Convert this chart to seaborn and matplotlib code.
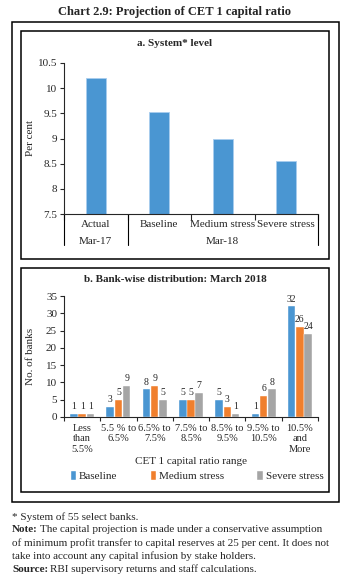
import numpy as np
import pandas as pd
import matplotlib
matplotlib.use('Agg')
import matplotlib.pyplot as plt
import seaborn as sns
from matplotlib.patches import Rectangle
from matplotlib.lines import Line2D

# panel a: system level
cats_a = ['Actual', 'Baseline', 'Medium stress', 'Severe stress']
vals_a = [10.2, 9.52, 9.0, 8.55]
groups_a = ['Mar-17', 'Mar-18']

# panel b: bank-wise distribution
ranges_b = ['Less\nthan\n5.5%', '5.5 % to\n6.5%', '6.5% to\n7.5%', '7.5% to\n8.5%',
            '8.5% to\n9.5%', '9.5% to\n10.5%', '10.5%\nand\nMore']
baseline = [1, 3, 8, 5, 5, 1, 32]
medium = [1, 5, 9, 5, 3, 6, 26]
severe = [1, 9, 5, 7, 1, 8, 24]
scen = ['Baseline', 'Medium stress', 'Severe stress']

sns.set_style('ticks')
plt.rcParams['font.family'] = ['Liberation Serif', 'DejaVu Serif']
plt.rcParams['font.size'] = 8

W, H = 350, 578
fig = plt.figure(figsize=(3.5, 5.78), dpi=100)

def fx(x):
    return x / W

def fy(y):
    return 1 - y / H

def box(x0, y0, x1, y1):
    fig.add_artist(Rectangle((fx(x0), fy(y1)), fx(x1 - x0), (y1 - y0) / H,
                             transform=fig.transFigure, fill=False, ec='black', lw=1.1))

box(12, 22, 339, 502)
box(21, 31, 329, 259)
box(21, 268, 329, 492)

fig.text(0.5, fy(12), 'Chart 2.9: Projection of CET 1 capital ratio', ha='center', va='center',
         weight='bold', fontsize=9)
fig.text(fx(175), fy(43), 'a. System* level', ha='center', va='center', weight='bold', fontsize=8)
fig.text(fx(175), fy(279), 'b. Bank-wise distribution: March 2018', ha='center', va='center',
         weight='bold', fontsize=8)

blue = '#4A96D2'
orange = '#F07F2D'
grey = '#A5A5A5'

# ---- panel a
ax1 = fig.add_axes([fx(64), fy(214), fx(254), 151 / H])
da = pd.DataFrame({'cat': cats_a, 'val': vals_a})
sns.barplot(data=da, x='cat', y='val', color=blue, width=0.31, ax=ax1,
            edgecolor='#a8cdee', linewidth=0.6, saturation=1)
ax1.set_ylim(7.5, 10.5)
ax1.set_xlim(-0.5, 3.5)
ax1.set_yticks(np.arange(7.5, 10.51, 0.5))
ax1.set_yticklabels([f'{v:g}' for v in np.arange(7.5, 10.51, 0.5)])
ax1.set_xticks(range(4))
ax1.set_xticklabels(cats_a)
ax1.tick_params(axis='x', length=0, pad=4)
ax1.set_xticks([-0.5, 0.5, 1.5, 2.5, 3.5], minor=True)
ax1.tick_params(axis='x', which='minor', length=4, width=0.8)
ax1.tick_params(axis='y', length=3, width=0.8, pad=2)
ax1.set_xlabel('')
ax1.set_ylabel('Per cent')
ax1.yaxis.set_label_coords(-29 / 254, 0.5)
sns.despine(ax=ax1)
trans = ax1.get_xaxis_transform()
for xs in [-0.5, 0.5, 3.5]:
    ax1.add_line(Line2D([xs, xs], [0, -31 / 151], transform=trans, color='black', lw=0.8,
                        clip_on=False))
ax1.text(0, -28 / 151, groups_a[0], transform=trans, ha='center', va='center')
ax1.text(2, -28 / 151, groups_a[1], transform=trans, ha='center', va='center')

# ---- panel b
ax2 = fig.add_axes([fx(64), fy(417), fx(254), 121 / H])
db = pd.DataFrame({'range': ranges_b * 3,
                   'scenario': np.repeat(scen, len(ranges_b)),
                   'n': baseline + medium + severe})
sns.barplot(data=db, x='range', y='n', hue='scenario', palette=[blue, orange, grey],
            width=0.68, gap=0.08, ax=ax2, saturation=1, edgecolor='white', linewidth=0.3)
for c in ax2.containers:
    ax2.bar_label(c, padding=2, fontsize=7)
ax2.set_ylim(0, 35)
ax2.set_xlim(-0.5, 6.5)
ax2.set_yticks(range(0, 36, 5))
ax2.tick_params(axis='x', length=0, pad=5, labelsize=7.5)
ax2.set_xticks(np.arange(-0.5, 6.6, 1), minor=True)
ax2.tick_params(axis='x', which='minor', length=3, width=0.8)
ax2.tick_params(axis='y', length=3, width=0.8, pad=2)
ax2.set_xlabel('CET 1 capital ratio range', labelpad=2)
ax2.set_ylabel('No. of banks')
ax2.yaxis.set_label_coords(-29 / 254, 0.5)
sns.despine(ax=ax2)
handles, labels = ax2.get_legend_handles_labels()
ax2.get_legend().remove()
fig.legend(handles, labels, loc='center', bbox_to_anchor=(fx(197), fy(476)), ncol=3,
           frameon=False, handlelength=0.5, handleheight=0.9, handletextpad=0.25,
           columnspacing=3.0, fontsize=8)

# ---- footnotes
r = fig.canvas.get_renderer()

def mixed(y, bold, rest):
    t = fig.text(fx(12), fy(y), bold, weight='bold', va='center', fontsize=8)
    bb = t.get_window_extent(r)
    fig.text((bb.x1 + 2) / W, fy(y), rest, va='center', fontsize=8)

fig.text(fx(12), fy(517), '* System of 55 select banks.', va='center', fontsize=8)
mixed(530, 'Note:', 'The capital projection is made under a conservative assumption')
fig.text(fx(12), fy(543), 'of minimum profit transfer to capital reserves at 25 per cent. It does not',
         va='center', fontsize=8)
fig.text(fx(12), fy(556), 'take into account any capital infusion by stake holders.', va='center',
         fontsize=8)
mixed(569, 'Source:', 'RBI supervisory returns and staff calculations.')

fig.savefig('out.png', dpi=100)
